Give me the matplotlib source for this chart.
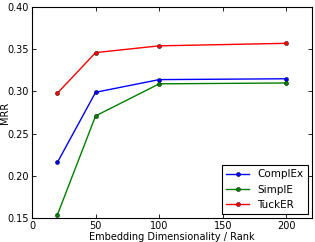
import matplotlib
matplotlib.use("Agg")
import matplotlib.pyplot as plt

dims = [20, 50, 100, 200]
complex_mrr = [0.216, 0.299, 0.314, 0.315]
simple_mrr = [0.154, 0.271, 0.309, 0.310]
tucker_mrr = [0.298, 0.346, 0.354, 0.357]
xticks = [0, 50, 100, 150, 200]
yticks = [0.15, 0.20, 0.25, 0.30, 0.35, 0.40]

plt.rcParams['font.family'] = 'DejaVu Sans'
fig = plt.figure(figsize=(3.15, 2.42), dpi=100)
ax = fig.add_axes([0.1016, 0.099, 0.8884, 0.872])

kw = dict(marker='o', markersize=3, markeredgecolor='black', markeredgewidth=0.3, linewidth=1)
ax.plot(dims, complex_mrr, color='blue', label='ComplEx', **kw)
ax.plot(dims, simple_mrr, color='green', label='SimplE', **kw)
ax.plot(dims, tucker_mrr, color='red', label='TuckER', **kw)

ax.set_xlim(0, 220)
ax.set_ylim(0.15, 0.40)
ax.set_xticks(xticks)
ax.set_yticks(yticks)
ax.set_yticklabels([f"{v:.2f}" for v in yticks])
ax.tick_params(direction='in', top=True, right=True, labelsize=7, length=3, width=0.6, pad=2)
for s in ax.spines.values():
    s.set_linewidth(0.8)
ax.set_xlabel('Embedding Dimensionality / Rank', fontsize=7, labelpad=1)
ax.set_ylabel('MRR', fontsize=7)
ax.yaxis.set_label_coords(-0.078, 0.5)
leg = ax.legend(loc='lower right', fontsize=7.5, fancybox=False, framealpha=1,
                edgecolor='black', borderaxespad=0.4, handlelength=2.2)
leg.get_frame().set_linewidth(0.8)

fig.savefig('out.png', dpi=100)
